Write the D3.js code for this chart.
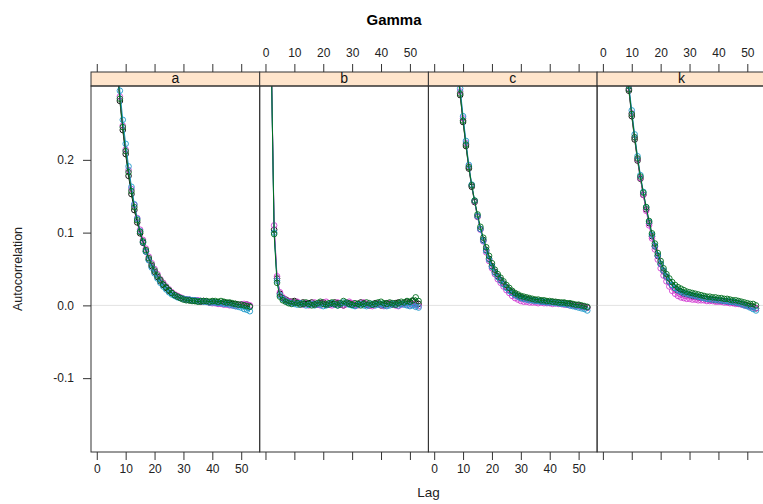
<!DOCTYPE html>
<html>
<head>
<meta charset="utf-8">
<script src="https://cdn.jsdelivr.net/npm/d3@7/dist/d3.min.js"></script>
<style>
  body { margin: 0; background: #fff; }
  svg { display: block; }
  text { font-family: "Liberation Sans", Arial, sans-serif; }
</style>
</head>
<body>
<svg id="chart" width="763" height="504"></svg>
<script>
// Autocorrelation by lag for four chains of each parameter
const panelNames = ["a", "b", "c", "k"];
const chainColors = ["#000000", "#d23cd2", "#1f9ac9", "#006e1e"];
const lags = [0,1,2,3,4,5,6,7,8,9,10,11,12,13,14,15,16,17,18,19,20,21,22,23,24,25,26,27,28,29,
  30,31,32,33,34,35,36,37,38,39,40,41,42,43,44,45,46,47,48,49,50,51,52,53];

const acfA1 = [1.000,0.846,0.716,0.606,0.516,0.443,0.383,0.328,0.281,0.241,
  0.208,0.178,0.153,0.131,0.114,0.099,0.086,0.074,0.063,0.054,
  0.046,0.039,0.033,0.028,0.024,0.020,0.017,0.014,0.012,0.010,
  0.009,0.008,0.007,0.007,0.006,0.006,0.005,0.006,0.005,0.004,
  0.005,0.004,0.004,0.003,0.004,0.003,0.003,0.002,0.002,0.001,
  0.001,0.000,0.001,-0.001];
const acfA2 = [1.000,0.850,0.722,0.612,0.522,0.449,0.389,0.334,0.287,0.247,
  0.214,0.186,0.160,0.138,0.120,0.104,0.090,0.078,0.067,0.058,
  0.050,0.043,0.036,0.031,0.026,0.022,0.018,0.015,0.013,0.011,
  0.009,0.008,0.008,0.007,0.007,0.007,0.006,0.006,0.005,0.004,
  0.003,0.003,0.002,0.002,0.001,0.001,0.000,0.000,-0.001,0.000,
  0.001,0.002,0.001,0.000];
const acfA3 = [1.000,0.855,0.728,0.620,0.531,0.458,0.398,0.342,0.295,0.255,
  0.222,0.191,0.163,0.139,0.119,0.102,0.087,0.074,0.062,0.052,
  0.044,0.037,0.031,0.026,0.022,0.018,0.015,0.013,0.011,0.010,
  0.009,0.008,0.008,0.007,0.007,0.006,0.006,0.005,0.005,0.004,
  0.004,0.004,0.003,0.003,0.002,0.002,0.001,0.000,-0.001,-0.002,
  -0.003,-0.005,-0.006,-0.008];
const acfA4 = [1.000,0.848,0.719,0.609,0.519,0.446,0.386,0.331,0.284,0.245,
  0.212,0.183,0.157,0.135,0.117,0.101,0.088,0.076,0.065,0.056,
  0.048,0.041,0.035,0.029,0.025,0.021,0.017,0.014,0.012,0.010,
  0.008,0.007,0.007,0.006,0.006,0.005,0.006,0.006,0.006,0.005,
  0.006,0.006,0.005,0.006,0.005,0.004,0.004,0.003,0.002,0.001,
  0.001,0.000,-0.001,-0.002];

const acfB1 = [1.000,0.700,0.340,0.104,0.037,0.016,0.010,0.008,0.006,0.005,
  0.006,0.004,0.003,0.004,0.002,0.003,0.004,0.002,0.001,0.003,
  0.004,0.002,0.001,0.002,0.004,0.003,0.001,0.000,0.002,0.003,
  0.001,0.000,0.002,0.004,0.003,0.001,0.000,0.001,0.003,0.002,
  0.000,0.001,0.003,0.002,0.001,0.003,0.004,0.002,0.003,0.005,
  0.004,0.006,0.003,0.002];
const acfB2 = [1.000,0.705,0.345,0.110,0.040,0.018,0.011,0.007,0.006,0.004,
  0.003,0.005,0.002,0.001,0.003,0.000,0.002,0.004,0.001,0.000,
  0.003,0.005,0.002,0.000,0.001,0.004,0.002,0.000,0.002,0.005,
  0.003,0.001,0.000,0.002,0.004,0.002,0.000,-0.001,0.001,0.003,
  0.001,-0.001,0.000,0.003,0.002,0.000,-0.001,0.001,0.003,0.001,
  0.000,0.002,0.000,-0.001];
const acfB3 = [1.000,0.698,0.338,0.100,0.034,0.014,0.009,0.006,0.004,0.003,
  0.002,0.001,0.003,0.002,0.000,0.001,0.002,0.000,0.002,0.001,
  -0.001,0.000,0.002,0.003,0.001,0.000,0.002,0.004,0.003,0.001,
  0.000,-0.001,0.001,0.002,0.000,-0.001,0.001,0.002,0.000,0.001,
  0.002,0.000,-0.001,0.000,0.002,0.001,0.000,0.002,0.001,0.000,
  -0.001,0.000,-0.002,-0.003];
const acfB4 = [1.000,0.702,0.342,0.098,0.031,0.012,0.007,0.005,0.003,0.002,
  0.004,0.003,0.001,0.002,0.004,0.002,0.000,0.001,0.003,0.005,
  0.002,0.001,0.003,0.004,0.002,0.000,0.003,0.006,0.004,0.002,
  0.001,0.003,0.002,0.000,0.002,0.004,0.003,0.001,0.002,0.004,
  0.005,0.003,0.002,0.004,0.003,0.001,0.003,0.005,0.004,0.006,
  0.005,0.007,0.011,0.006];

const acfC1 = [1.000,0.845,0.725,0.635,0.555,0.485,0.425,0.375,0.328,0.289,
  0.252,0.219,0.188,0.163,0.142,0.122,0.105,0.090,0.076,0.064,
  0.054,0.046,0.040,0.035,0.030,0.025,0.021,0.018,0.015,0.013,
  0.011,0.010,0.009,0.008,0.007,0.007,0.006,0.006,0.005,0.005,
  0.004,0.005,0.004,0.004,0.003,0.003,0.002,0.002,0.001,0.000,
  0.000,-0.001,-0.002,-0.003];
const acfC2 = [1.000,0.850,0.731,0.641,0.561,0.491,0.431,0.381,0.333,0.294,
  0.257,0.223,0.191,0.165,0.143,0.122,0.104,0.088,0.073,0.061,
  0.051,0.043,0.036,0.031,0.026,0.021,0.017,0.013,0.010,0.008,
  0.006,0.005,0.005,0.004,0.004,0.004,0.003,0.004,0.003,0.003,
  0.003,0.002,0.003,0.002,0.002,0.001,0.001,0.000,0.000,-0.001,
  -0.001,-0.002,-0.002,-0.003];
const acfC3 = [1.000,0.855,0.736,0.646,0.566,0.496,0.436,0.386,0.338,0.298,
  0.260,0.226,0.193,0.166,0.144,0.123,0.105,0.089,0.075,0.063,
  0.053,0.045,0.039,0.034,0.029,0.024,0.020,0.017,0.014,0.012,
  0.010,0.009,0.008,0.007,0.007,0.006,0.006,0.005,0.005,0.004,
  0.004,0.004,0.003,0.003,0.002,0.002,0.001,0.000,-0.001,-0.002,
  -0.003,-0.004,-0.005,-0.007];
const acfC4 = [1.000,0.848,0.728,0.638,0.558,0.488,0.428,0.378,0.331,0.291,
  0.254,0.221,0.190,0.165,0.144,0.125,0.108,0.093,0.080,0.068,
  0.058,0.049,0.043,0.038,0.033,0.028,0.024,0.020,0.017,0.015,
  0.013,0.012,0.011,0.010,0.009,0.008,0.008,0.007,0.007,0.006,
  0.006,0.005,0.005,0.004,0.004,0.004,0.003,0.003,0.002,0.001,
  0.001,0.000,-0.001,-0.002];

const acfK1 = [1.000,0.858,0.738,0.638,0.548,0.478,0.418,0.368,0.328,0.295,
  0.260,0.228,0.199,0.174,0.152,0.132,0.113,0.095,0.081,0.068,
  0.057,0.047,0.039,0.032,0.027,0.023,0.020,0.018,0.016,0.015,
  0.014,0.013,0.012,0.011,0.010,0.010,0.009,0.008,0.008,0.007,
  0.007,0.006,0.006,0.005,0.005,0.004,0.004,0.003,0.002,0.001,
  0.000,-0.001,-0.002,-0.004];
const acfK2 = [1.000,0.860,0.740,0.640,0.550,0.480,0.420,0.370,0.330,0.298,
  0.264,0.231,0.201,0.175,0.152,0.130,0.110,0.092,0.077,0.063,
  0.051,0.041,0.033,0.026,0.020,0.016,0.013,0.011,0.010,0.009,
  0.009,0.008,0.008,0.007,0.007,0.007,0.006,0.006,0.006,0.005,
  0.005,0.005,0.004,0.004,0.003,0.003,0.002,0.002,0.001,0.000,
  -0.001,-0.002,-0.003,-0.004];
const acfK3 = [1.000,0.863,0.743,0.643,0.553,0.483,0.423,0.373,0.333,0.302,
  0.268,0.235,0.205,0.179,0.156,0.135,0.115,0.097,0.082,0.069,
  0.057,0.048,0.040,0.033,0.028,0.024,0.021,0.019,0.017,0.016,
  0.015,0.014,0.013,0.012,0.011,0.010,0.009,0.009,0.008,0.008,
  0.007,0.007,0.006,0.006,0.005,0.005,0.004,0.003,0.002,0.000,
  -0.001,-0.003,-0.005,-0.007];
const acfK4 = [1.000,0.859,0.739,0.639,0.549,0.479,0.419,0.369,0.329,0.297,
  0.263,0.231,0.202,0.177,0.155,0.135,0.116,0.099,0.085,0.072,
  0.061,0.051,0.043,0.037,0.032,0.028,0.025,0.023,0.021,0.019,
  0.018,0.017,0.016,0.015,0.014,0.013,0.012,0.012,0.011,0.011,
  0.010,0.010,0.009,0.009,0.008,0.007,0.007,0.006,0.005,0.004,
  0.003,0.002,0.002,0.000];

const xTicks = [0, 10, 20, 30, 40, 50];
const yTicks = [-0.1, 0.0, 0.1, 0.2];
const yTickLabels = ["-0.1", "0.0", "0.1", "0.2"];

const panelSeries = [
  [acfA1, acfA2, acfA3, acfA4],
  [acfB1, acfB2, acfB3, acfB4],
  [acfC1, acfC2, acfC3, acfC4],
  [acfK1, acfK2, acfK3, acfK4]
];

// ---- layout ----
const svg = d3.select("#chart");
const left0 = 91, panelW = 168.7;
const stripTop = 72, panelTop = 86, panelBottom = 452;
const tickLen = 8;
const frameColor = "#333";

const x = d3.scaleLinear().domain([-2, 56.4]).range([0, panelW]);
const y = d3.scaleLinear().domain([-0.2015, 0.3015]).range([panelBottom, panelTop]);

svg.append("text")
  .attr("x", 394).attr("y", 25)
  .attr("text-anchor", "middle")
  .attr("font-size", 15).attr("font-weight", "bold")
  .text("Gamma");

svg.append("text")
  .attr("transform", `translate(22,${(panelTop + panelBottom) / 2}) rotate(-90)`)
  .attr("text-anchor", "middle")
  .attr("font-size", 12.5).attr("fill", "#222")
  .text("Autocorrelation");

svg.append("text")
  .attr("x", left0 + panelW * 2).attr("y", 497)
  .attr("text-anchor", "middle")
  .attr("font-size", 13.5).attr("fill", "#222")
  .text("Lag");

const defs = svg.append("defs");

function styleAxis(g) {
  g.select(".domain").remove();
  g.selectAll(".tick line").attr("stroke", frameColor);
  g.selectAll(".tick text").attr("fill", "#222").attr("font-size", 12)
    .attr("font-family", "'Liberation Sans', Arial, sans-serif");
}

panelNames.forEach((name, i) => {
  const px = left0 + i * panelW;
  const g = svg.append("g").attr("transform", `translate(${px},0)`);

  // zero reference line
  g.append("line")
    .attr("x1", 0).attr("x2", panelW)
    .attr("y1", y(0)).attr("y2", y(0))
    .attr("stroke", "#e2e2e2").attr("stroke-width", 1);

  // chains, clipped to the panel
  defs.append("clipPath").attr("id", "clip-" + name)
    .append("rect").attr("x", 0).attr("y", panelTop)
    .attr("width", panelW).attr("height", panelBottom - panelTop);
  const plot = g.append("g").attr("clip-path", `url(#clip-${name})`);
  const line = d3.line().x((d, j) => x(lags[j])).y(d => y(d));
  panelSeries[i].forEach((vals, c) => {
    plot.append("path").datum(vals)
      .attr("d", line)
      .attr("fill", "none")
      .attr("stroke", chainColors[c]).attr("stroke-width", 1);
    plot.selectAll(null).data(vals).join("circle")
      .attr("cx", (d, j) => x(lags[j]))
      .attr("cy", d => y(d))
      .attr("r", 2.8)
      .attr("fill", "none")
      .attr("stroke", chainColors[c]).attr("stroke-width", 0.9);
  });

  // strip
  g.append("rect")
    .attr("x", 0).attr("y", stripTop)
    .attr("width", panelW).attr("height", panelTop - stripTop)
    .attr("fill", "#ffe5cc").attr("stroke", frameColor).attr("stroke-width", 1);
  g.append("text")
    .attr("x", panelW / 2).attr("y", panelTop - 3)
    .attr("text-anchor", "middle")
    .attr("font-size", 14).attr("fill", "#111")
    .text(name);

  // panel frame
  g.append("rect")
    .attr("x", 0).attr("y", panelTop)
    .attr("width", panelW).attr("height", panelBottom - panelTop)
    .attr("fill", "none").attr("stroke", frameColor).attr("stroke-width", 1);

  // x axes: labels alternate between bottom and top
  const labelBottom = (i % 2 === 0);
  const bottomAxis = d3.axisBottom(x).tickValues(xTicks).tickSize(tickLen).tickPadding(4);
  if (!labelBottom) bottomAxis.tickFormat("");
  g.append("g").attr("transform", `translate(0,${panelBottom})`).call(bottomAxis).call(styleAxis);

  const topAxis = d3.axisTop(x).tickValues(xTicks).tickSize(tickLen).tickPadding(7);
  if (labelBottom) topAxis.tickFormat("");
  g.append("g").attr("transform", `translate(0,${stripTop})`).call(topAxis).call(styleAxis);

  if (i === 0) {
    const leftAxis = d3.axisLeft(y).tickValues(yTicks).tickSize(tickLen).tickPadding(9)
      .tickFormat((d, j) => yTickLabels[j]);
    g.append("g").call(leftAxis).call(styleAxis);
  }
});
</script>
</body>
</html>
